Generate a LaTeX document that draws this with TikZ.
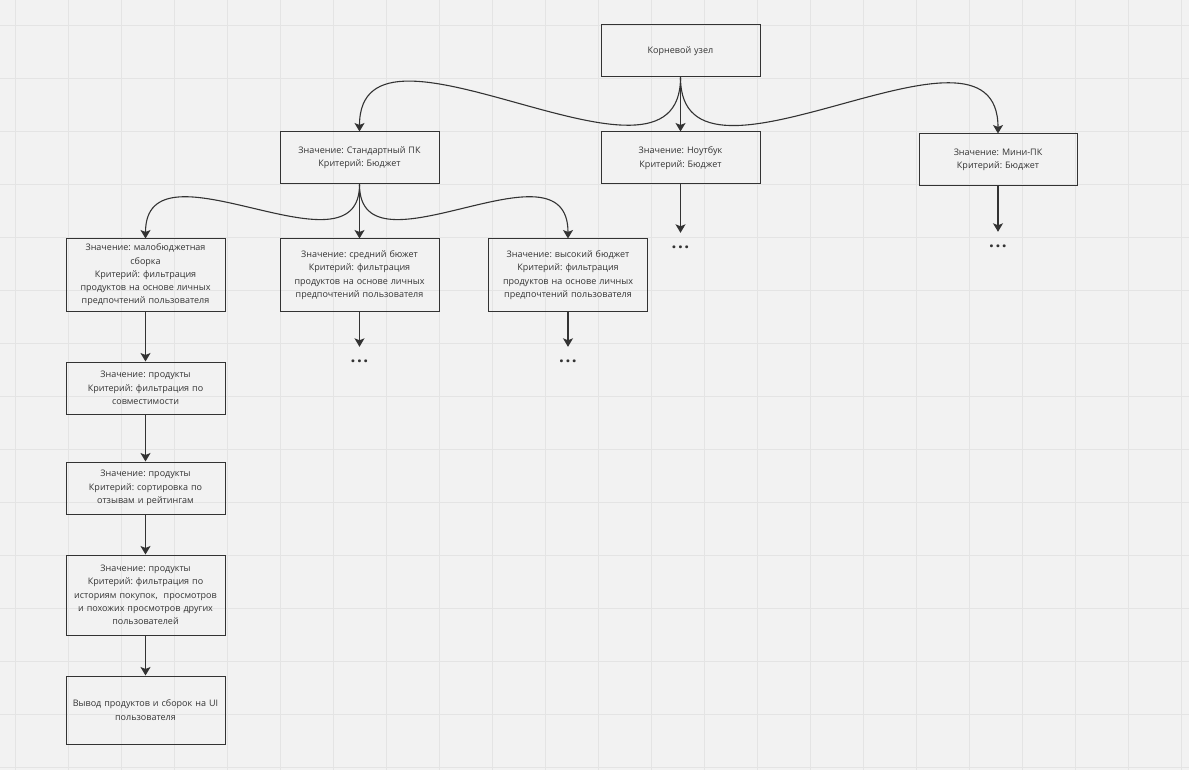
\documentclass[tikz,border=0pt]{standalone}
\usepackage{fontspec}
\setmainfont{Open Sans}
\usetikzlibrary{arrows.meta}
\definecolor{bgc}{HTML}{F2F2F2}
\definecolor{gridc}{HTML}{E4E4E4}
\definecolor{inkc}{HTML}{333333}
\frenchspacing
\tikzset{
  box/.style={draw=inkc, line width=1pt, minimum width=159pt, text width=155pt, align=center,
    inner sep=0pt, text=inkc, font=\fontsize{9}{13.3}\selectfont},
  arr/.style={draw=inkc, line width=1.1pt, -{Stealth[length=8.5pt,width=10pt,inset=2pt]}},
  dotsnode/.style={inner sep=0pt, minimum height=28pt, text=inkc, font=\fontsize{17}{17}\selectfont\bfseries},
  gridline/.style={draw=gridc, line width=1.2pt}
}
\begin{document}
\begin{tikzpicture}[x=1pt, y=-1pt]
\fill[bgc] (0,0) rectangle (1189,770);
\useasboundingbox (0,0) rectangle (1189,770);
\foreach \i in {0,...,22} { \draw[gridline] ({15.7+53*\i},0) -- ({15.7+53*\i},770); }
\foreach \j in {0,...,14} { \draw[gridline] (0,{25.7+53*\j}) -- (1189,{25.7+53*\j}); }

\node[box, minimum height=52pt] (root) at (680.5,51) {Корневой узел};
\node[box, minimum height=52pt] (std) at (359.5,158) {Значение: Стандартный ПК\\Критерий: Бюджет};
\node[box, minimum height=52pt] (nb) at (680.5,158) {Значение: Ноутбук\\Критерий: Бюджет};
\node[box, minimum height=52pt, minimum width=158pt] (mini) at (998,160) {Значение: Мини-ПК\\Критерий: Бюджет};

\node[box, minimum height=72pt] (low) at (145.5,275) {Значение: малобюджетная\\сборка\\Критерий: фильтрация\\продуктов на основе личных\\предпочтений пользователя};
\node[box, minimum height=72pt] (mid) at (359.5,275) {Значение: средний бюжет\\Критерий: фильтрация\\продуктов на основе личных\\предпочтений пользователя};
\node[box, minimum height=72pt] (high) at (568,275) {Значение: высокий бюджет\\Критерий: фильтрация\\продуктов на основе личных\\предпочтений пользователя};

\node[box, minimum height=52pt] (p1) at (145.5,388) {Значение: продукты\\Критерий: фильтрация по\\совместимости};
\node[box, minimum height=52pt] (p2) at (145.5,488) {Значение: продукты\\Критерий: сортировка по\\отзывам и рейтингам};
\node[box, minimum height=80pt] (p3) at (145.5,595) {Значение: продукты\\Критерий: фильтрация по\\историям покупок,\ \ просмотров\\и похожих просмотров других\\пользователей};
\node[box, minimum height=68pt] (out) at (145.5,710) {Вывод продуктов и сборок на UI\\пользователя};

\node[dotsnode] (dnb) at (680.5,247) {.\kern1.5pt.\kern1.5pt.};
\node[dotsnode] (dmini) at (998,246) {.\kern1.5pt.\kern1.5pt.};
\node[dotsnode] (dmid) at (359.5,361) {.\kern1.5pt.\kern1.5pt.};
\node[dotsnode] (dhigh) at (568,361) {.\kern1.5pt.\kern1.5pt.};

\draw[arr] (root.south) .. controls +(0,140) and +(0,-140) .. (std.north);
\draw[arr] (root.south) -- (nb.north);
\draw[arr] (root.south) .. controls +(0,140) and +(0,-140) .. (mini.north);

\draw[arr] (std.south) .. controls +(0,98) and +(0,-105) .. (low.north);
\draw[arr] (std.south) -- (mid.north);
\draw[arr] (std.south) .. controls +(0,98) and +(0,-105) .. (high.north);

\draw[arr] (nb.south) -- (dnb.north);
\draw[arr] (mini.south) -- (dmini.north);
\draw[arr] (mid.south) -- (dmid.north);
\draw[arr] (high.south) -- (dhigh.north);

\draw[arr] (low.south) -- (p1.north);
\draw[arr] (p1.south) -- (p2.north);
\draw[arr] (p2.south) -- (p3.north);
\draw[arr] (p3.south) -- (out.north);
\end{tikzpicture}
\end{document}
